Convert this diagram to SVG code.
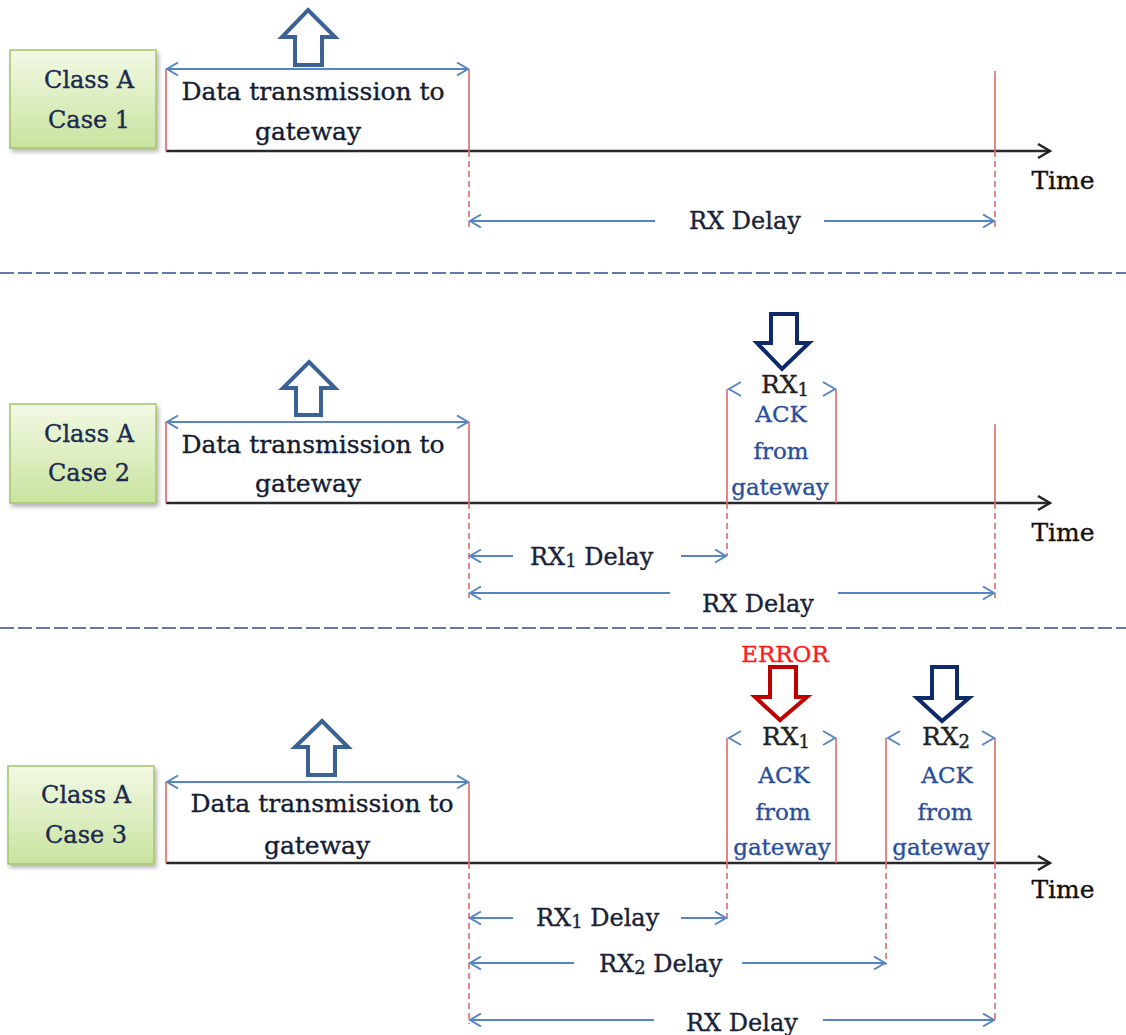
<svg xmlns="http://www.w3.org/2000/svg" width="1126" height="1035" viewBox="0 0 1126 1035">
  <defs>
    <linearGradient id="boxFill" x1="0" y1="0" x2="0" y2="1">
      <stop offset="0" stop-color="#f2f9e4"/>
      <stop offset="1" stop-color="#c9e39f"/>
    </linearGradient>
    <filter id="boxShadow" x="-10%" y="-10%" width="125%" height="130%">
      <feDropShadow dx="2" dy="3" stdDeviation="2" flood-color="#000" flood-opacity="0.3"/>
    </filter>
    <!-- open chevron head for the blue span arrows -->
    <marker id="spanHead" markerUnits="userSpaceOnUse" markerWidth="16" markerHeight="16" refX="12" refY="7" orient="auto-start-reverse">
      <path d="M1,0.5 L12,7 L1,13.5" fill="none" stroke="#5585c4" stroke-width="2"/>
    </marker>
    <!-- open chevron head for the time axis -->
    <marker id="timeHead" markerUnits="userSpaceOnUse" markerWidth="18" markerHeight="18" refX="13" refY="8" orient="auto">
      <path d="M1,1 L13,8 L1,15" fill="none" stroke="#222" stroke-width="2.4"/>
    </marker>
  </defs>
  <style>
    text { font-family: "DejaVu Serif", "Liberation Serif", serif; stroke-width: 0.35; }
    .box { fill: url(#boxFill); stroke: #a3c56b; stroke-width: 1.5; filter: url(#boxShadow); }
    .boxtxt { font-size: 24px; fill: #1b2a4e; stroke: #1b2a4e; text-anchor: middle; }
    .main { font-size: 25px; fill: #141c33; stroke: #141c33; text-anchor: middle; }
    .lbl { font-size: 24px; fill: #1a2238; stroke: #1a2238; }
    .ack { font-size: 23px; fill: #2a4f9a; stroke: #2a4f9a; text-anchor: middle; }
    .rx { font-size: 25px; fill: #222; stroke: #222; text-anchor: middle; }
    .time { font-size: 25px; fill: #111; stroke: #111; text-anchor: middle; }
    .err { font-size: 23px; fill: #ff1a1a; stroke: #ff1a1a; text-anchor: middle; }
    .axis { stroke: #2a2a2a; stroke-width: 2.5; fill: none; marker-end: url(#timeHead); }
    .span { stroke: #5585c4; stroke-width: 2; fill: none; }
    .span2 { stroke: #5585c4; stroke-width: 2; fill: none; marker-start: url(#spanHead); marker-end: url(#spanHead); }
    .spanL { stroke: #5585c4; stroke-width: 2; fill: none; marker-start: url(#spanHead); }
    .spanR { stroke: #5585c4; stroke-width: 2; fill: none; marker-end: url(#spanHead); }
    .tick { stroke: #e06a6a; stroke-width: 1.6; fill: none; }
    .guide { stroke: #e06a6a; stroke-width: 1.6; fill: none; stroke-dasharray: 6 4; }
    .sep { stroke: #5f79a8; stroke-width: 2.2; fill: none; stroke-dasharray: 14 4; }
    .up { fill: #fff; stroke: #3b6294; stroke-width: 4; stroke-linejoin: miter; }
    .down { fill: #fff; stroke: #0f2a6a; stroke-width: 4; stroke-linejoin: miter; }
    .downErr { fill: #fff; stroke: #c00000; stroke-width: 4; stroke-linejoin: miter; }
  </style>

  <rect width="1126" height="1035" fill="#fff"/>

  <!-- ============ Case 1 ============ -->
  <g id="case1-box">
    <rect class="box" x="10" y="50" width="146" height="98"/>
    <text class="boxtxt" x="89" y="88">Class A</text>
    <text class="boxtxt" x="89" y="128">Case 1</text>
  </g>
  <g id="case1-uplink">
    <polygon class="up" points="308,10 335,37 322,37 322,65 295,65 295,37 282,37"/>
    <text class="main" x="313" y="100">Data transmission to</text>
    <text class="main" x="308" y="140">gateway</text>
  </g>
  <g id="case1-labels">
    <text class="time" x="1063" y="189">Time</text>
    <text class="lbl" x="689" y="229">RX Delay</text>
  </g>

  <!-- ============ Case 2 ============ -->
  <g id="case2-box">
    <rect class="box" x="10" y="404" width="146" height="99"/>
    <text class="boxtxt" x="89" y="442">Class A</text>
    <text class="boxtxt" x="89" y="481">Case 2</text>
  </g>
  <g id="case2-uplink">
    <polygon class="up" points="309,362 335,388 321,388 321,415 296,415 296,388 283,388"/>
    <text class="main" x="313" y="453">Data transmission to</text>
    <text class="main" x="308" y="492">gateway</text>
  </g>
  <g id="case2-rx1">
    <polygon class="down" points="771,314 797,314 797,343 809,343 782,369 757,343 771,343"/>
    <text class="rx" x="785" y="393">RX<tspan font-size="18" dy="3">1</tspan></text>
    <text class="ack" x="781" y="422">ACK</text>
    <text class="ack" x="781" y="459">from</text>
    <text class="ack" x="780" y="495">gateway</text>
  </g>
  <g id="case2-labels">
    <text class="time" x="1063" y="541">Time</text>
    <text class="lbl" x="530" y="565">RX<tspan font-size="18" dy="2">1</tspan><tspan dy="-2"> Delay</tspan></text>
    <text class="lbl" x="702" y="612">RX Delay</text>
  </g>

  <!-- ============ Case 3 ============ -->
  <g id="case3-box">
    <rect class="box" x="8" y="766" width="146" height="98"/>
    <text class="boxtxt" x="86" y="803">Class A</text>
    <text class="boxtxt" x="86" y="843">Case 3</text>
  </g>
  <g id="case3-uplink">
    <polygon class="up" points="322,721 348,747 335,747 335,775 308,775 308,747 295,747"/>
    <text class="main" x="322" y="812">Data transmission to</text>
    <text class="main" x="317" y="854">gateway</text>
  </g>
  <g id="case3-rx1">
    <text class="err" x="785" y="662">ERROR</text>
    <polygon class="downErr" points="770,667 796,667 796,697 807,697 780,720 755,697 770,697"/>
    <text class="rx" x="786" y="745">RX<tspan font-size="18" dy="3">1</tspan></text>
    <text class="ack" x="784" y="783">ACK</text>
    <text class="ack" x="783" y="820">from</text>
    <text class="ack" x="782" y="855">gateway</text>
  </g>
  <g id="case3-rx2">
    <polygon class="down" points="932,667 957,667 957,698 969,698 942,721 917,698 932,698"/>
    <text class="rx" x="946" y="745">RX<tspan font-size="18" dy="3">2</tspan></text>
    <text class="ack" x="947" y="783">ACK</text>
    <text class="ack" x="945" y="820">from</text>
    <text class="ack" x="941" y="855">gateway</text>
  </g>
  <g id="case3-labels">
    <text class="time" x="1063" y="898">Time</text>
    <text class="lbl" x="536" y="926">RX<tspan font-size="18" dy="2">1</tspan><tspan dy="-2"> Delay</tspan></text>
    <text class="lbl" x="599" y="972">RX<tspan font-size="18" dy="2">2</tspan><tspan dy="-2"> Delay</tspan></text>
    <text class="lbl" x="686" y="1031">RX Delay</text>
  </g>

  <!-- ============ connectors ============ -->
  <g id="connectors">
    <!-- section separators -->
    <line class="sep" x1="0" y1="273" x2="1126" y2="273"/>
    <line class="sep" x1="0" y1="628" x2="1126" y2="628"/>

    <!-- case 1 -->
    <line class="axis" x1="166" y1="151" x2="1050" y2="151"/>
    <line class="span2" x1="167" y1="69" x2="468" y2="69"/>
    <line class="tick" x1="166" y1="69" x2="166" y2="151"/>
    <line class="tick" x1="469" y1="69" x2="469" y2="151"/>
    <line class="tick" x1="995" y1="71" x2="995" y2="151"/>
    <line class="guide" x1="469" y1="151" x2="469" y2="228"/>
    <line class="guide" x1="995" y1="151" x2="995" y2="228"/>
    <line class="spanL" x1="470" y1="221" x2="655" y2="221"/>
    <line class="spanR" x1="824" y1="221" x2="994" y2="221"/>

    <!-- case 2 -->
    <line class="axis" x1="166" y1="503" x2="1050" y2="503"/>
    <line class="span2" x1="167" y1="422" x2="468" y2="422"/>
    <line class="tick" x1="166" y1="422" x2="166" y2="503"/>
    <line class="tick" x1="469" y1="422" x2="469" y2="503"/>
    <line class="tick" x1="727" y1="389" x2="727" y2="503"/>
    <line class="tick" x1="836" y1="389" x2="836" y2="503"/>
    <line class="tick" x1="995" y1="424" x2="995" y2="503"/>
    <line class="guide" x1="469" y1="503" x2="469" y2="598"/>
    <line class="guide" x1="727" y1="503" x2="727" y2="556"/>
    <line class="guide" x1="995" y1="503" x2="995" y2="598"/>
    <path class="span" d="M741,382 L729,389 L741,396"/>
    <path class="span" d="M823,382 L835,389 L823,396"/>
    <line class="spanL" x1="470" y1="556" x2="513" y2="556"/>
    <line class="spanR" x1="681" y1="556" x2="726" y2="556"/>
    <line class="spanL" x1="470" y1="593" x2="670" y2="593"/>
    <line class="spanR" x1="838" y1="593" x2="994" y2="593"/>

    <!-- case 3 -->
    <line class="axis" x1="166" y1="863" x2="1050" y2="863"/>
    <line class="span2" x1="167" y1="782" x2="468" y2="782"/>
    <line class="tick" x1="166" y1="782" x2="166" y2="863"/>
    <line class="tick" x1="469" y1="782" x2="469" y2="863"/>
    <line class="tick" x1="727" y1="738" x2="727" y2="863"/>
    <line class="tick" x1="836" y1="738" x2="836" y2="863"/>
    <line class="tick" x1="886" y1="738" x2="886" y2="863"/>
    <line class="tick" x1="995" y1="738" x2="995" y2="863"/>
    <line class="guide" x1="469" y1="863" x2="469" y2="1024"/>
    <line class="guide" x1="727" y1="863" x2="727" y2="920"/>
    <line class="guide" x1="886" y1="863" x2="886" y2="965"/>
    <line class="guide" x1="995" y1="863" x2="995" y2="1022"/>
    <path class="span" d="M741,731 L729,738 L741,745"/>
    <path class="span" d="M823,731 L835,738 L823,745"/>
    <path class="span" d="M900,731 L888,738 L900,745"/>
    <path class="span" d="M982,731 L994,738 L982,745"/>
    <line class="spanL" x1="470" y1="918" x2="513" y2="918"/>
    <line class="spanR" x1="681" y1="918" x2="726" y2="918"/>
    <line class="spanL" x1="470" y1="963" x2="574" y2="963"/>
    <line class="spanR" x1="742" y1="963" x2="885" y2="963"/>
    <line class="spanL" x1="470" y1="1020" x2="654" y2="1020"/>
    <line class="spanR" x1="823" y1="1020" x2="994" y2="1020"/>
  </g>
</svg>
